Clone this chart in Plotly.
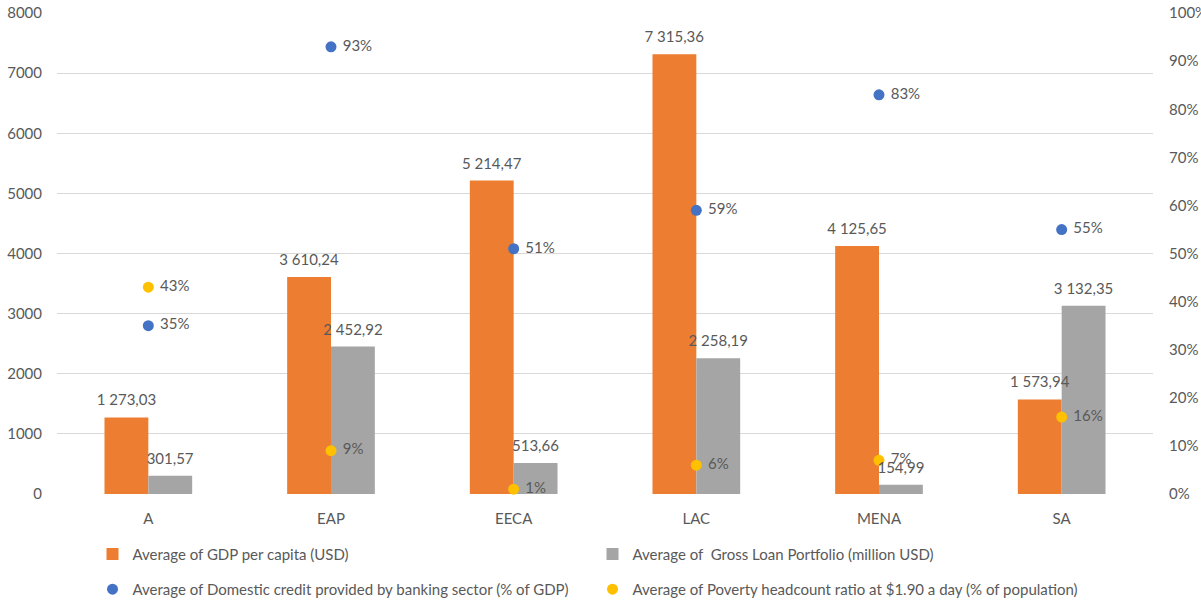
import plotly.graph_objects as go

categories = ["A", "EAP", "EECA", "LAC", "MENA", "SA"]
gdp = [1273.03, 3610.24, 5214.47, 7315.36, 4125.65, 1573.94]
loan = [301.57, 2452.92, 513.66, 2258.19, 154.99, 3132.35]
credit = [0.35, 0.93, 0.51, 0.59, 0.83, 0.55]
poverty = [0.43, 0.09, 0.01, 0.06, 0.07, 0.16]

FONT = "Lato, Open Sans, sans-serif"
GREY = "#595959"


def fmt_num(v):
    s = f"{v:,.2f}"
    return s.replace(",", " ").replace(".", ",")


def fmt_pct(v):
    return "\u00a0" + f"{round(v * 100):d}%"


fig = go.Figure()
fig.add_trace(go.Bar(
    x=categories, y=gdp, name="Average of GDP per capita (USD)",
    marker=dict(color="#ED7D31", line=dict(width=0)),
    legend="legend",
))
fig.add_trace(go.Bar(
    x=categories, y=loan, name="Average of  Gross Loan Portfolio (million USD)",
    marker=dict(color="#A5A5A5", line=dict(width=0)),
    legend="legend",
))
# transparent overlay bars (on overlaying axes) carrying the value labels so
# that the labels are drawn above every bar
for vals in (gdp, loan):
    fig.add_trace(go.Bar(
        x=categories, y=vals, xaxis="x2", yaxis="y3", showlegend=False,
        marker=dict(color="rgba(0,0,0,0)", line=dict(width=0)),
        text=[fmt_num(v) for v in vals], textposition="outside",
        constraintext="none", textangle=0,
        textfont=dict(family=FONT, size=15, color=GREY), cliponaxis=False,
        hoverinfo="skip",
    ))
fig.add_trace(go.Scatter(
    x=categories, y=credit, yaxis="y2", mode="markers+text",
    name="Average of Domestic credit provided by banking sector (% of GDP)",
    marker=dict(color="#4472C4", size=11),
    text=[fmt_pct(v) for v in credit], textposition="middle right",
    textfont=dict(family=FONT, size=15, color=GREY), cliponaxis=False,
    legend="legend2",
))
fig.add_trace(go.Scatter(
    x=categories, y=poverty, yaxis="y2", mode="markers+text",
    name="Average of Poverty headcount ratio at $1.90 a day (% of population)",
    marker=dict(color="#FFC000", size=11),
    text=[fmt_pct(v) for v in poverty], textposition="middle right",
    textfont=dict(family=FONT, size=15, color=GREY), cliponaxis=False,
    legend="legend2",
))

fig.update_layout(
    template="none",
    width=1201, height=601,
    margin=dict(l=57, r=48, t=13, b=107, autoexpand=False),
    paper_bgcolor="white", plot_bgcolor="white",
    font=dict(family=FONT, size=15, color=GREY),
    barmode="group", bargap=0.52, bargroupgap=0,
    xaxis=dict(
        showgrid=False, showline=False, zeroline=False, ticks="",
        ticklabelstandoff=14, tickfont=dict(size=15, color=GREY),
        automargin=False,
    ),
    xaxis2=dict(overlaying="x", matches="x", visible=False),
    yaxis=dict(
        range=[0, 8002], dtick=1000, showgrid=True, gridcolor="#D9D9D9",
        gridwidth=1, zeroline=False, showline=False, ticks="",
        tickformat="d", ticklabelstandoff=14, ticklabeloverflow="allow",
        tickfont=dict(size=15, color=GREY), automargin=False,
    ),
    yaxis2=dict(
        range=[0, 1.00025], dtick=0.1, overlaying="y", side="right",
        tickformat=".0%", showgrid=False, zeroline=False, showline=False,
        ticks="", ticklabelstandoff=15, ticklabeloverflow="allow",
        tickfont=dict(size=15, color=GREY), automargin=False,
    ),
    yaxis3=dict(range=[-100, 7902], overlaying="y", anchor="x2",
                visible=False),
    legend=dict(
        orientation="h", x=0.0324, xanchor="left", y=-0.091, yanchor="top",
        entrywidth=455, entrywidthmode="pixels",
        font=dict(size=15, color=GREY), bgcolor="rgba(0,0,0,0)",
        itemclick=False, traceorder="normal",
    ),
    legend2=dict(
        orientation="h", x=0.0324, xanchor="left", y=-0.164, yanchor="top",
        entrywidth=455, entrywidthmode="pixels",
        font=dict(size=15, color=GREY), bgcolor="rgba(0,0,0,0)",
        itemclick=False, traceorder="normal",
    ),
)

fig.write_html(
    "out.html",
    config={"displayModeBar": False},
    post_script="document.body.style.margin='0';"
                "document.body.style.overflow='hidden';",
)
